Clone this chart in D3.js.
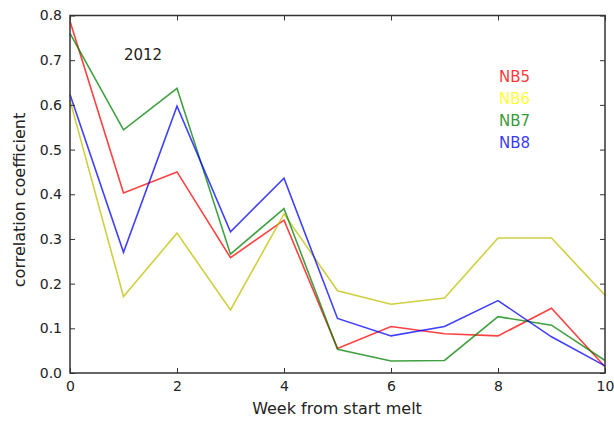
<!DOCTYPE html>
<html><head><meta charset="utf-8">
<script src="https://cdn.jsdelivr.net/npm/d3@7"></script>
<style>body{margin:0;background:#fff}svg{display:block}text{font-family:"DejaVu Sans",sans-serif}</style>
</head><body><svg id="c" width="614" height="423"></svg>
<script>
const weeks = [0,1,2,3,4,5,6,7,8,9,10];
const nb5 = [0.787,0.403,0.450,0.258,0.342,0.055,0.104,0.088,0.083,0.145,0.014];
const nb6 = [0.610,0.171,0.313,0.141,0.356,0.184,0.154,0.168,0.302,0.302,0.174];
const nb7 = [0.760,0.544,0.637,0.266,0.368,0.053,0.027,0.028,0.126,0.107,0.028];
const nb8 = [0.623,0.270,0.597,0.316,0.436,0.122,0.083,0.104,0.162,0.081,0.016];
const seriesNames = ["NB5","NB6","NB7","NB8"];
const lineColors = ["#ff0000","#bfbf00","#008000","#0000ff"];
const textColors = ["#ff0000","#ffff00","#008000","#0000ff"];
const xTicks = [0,2,4,6,8,10];
const yTicks = [0,0.1,0.2,0.3,0.4,0.5,0.6,0.7,0.8];

const svg = d3.select("#c");
const L=70, R=605, T=15.5, B=373;
const x = d3.scaleLinear().domain([0,10]).range([L,R]);
const y = d3.scaleLinear().domain([0,0.8]).range([B,T]);

const series = [nb5,nb6,nb7,nb8];
const line = d3.line().x((d,i)=>x(weeks[i])).y(d=>y(d));
series.forEach((s,i)=>{
  svg.append("path").datum(s).attr("d",line).attr("fill","none")
    .attr("stroke",lineColors[i]).attr("stroke-opacity",0.75).attr("stroke-width",1.6);
});

const fmt = d3.format(".1f");
const axB = svg.append("g").attr("transform",`translate(0,${B})`)
  .call(d3.axisBottom(x).tickValues(xTicks).tickFormat(d3.format("d")).tickSizeInner(-5).tickSizeOuter(0).tickPadding(8));
const axT = svg.append("g").attr("transform",`translate(0,${T})`)
  .call(d3.axisTop(x).tickValues(xTicks).tickFormat("").tickSizeInner(-5).tickSizeOuter(0));
const axL = svg.append("g").attr("transform",`translate(${L},0)`)
  .call(d3.axisLeft(y).tickValues(yTicks).tickFormat(fmt).tickSizeInner(-5).tickSizeOuter(0).tickPadding(8));
const axR = svg.append("g").attr("transform",`translate(${R},0)`)
  .call(d3.axisRight(y).tickValues(yTicks).tickFormat("").tickSizeInner(-5).tickSizeOuter(0));
[axB,axT,axL,axR].forEach(a=>{
  a.select(".domain").remove();
  a.selectAll(".tick line").attr("stroke","#333").attr("stroke-width",1);
  a.selectAll("text").attr("font-size",14).attr("fill","#222").attr("font-family","DejaVu Sans");
});
svg.append("rect").attr("x",L).attr("y",T).attr("width",R-L).attr("height",B-T)
  .attr("fill","none").attr("stroke","#333").attr("stroke-width",1.5);

svg.append("text").attr("x",143).attr("y",60).attr("text-anchor","middle")
  .attr("font-size",15).attr("fill","#222").text("2012");
seriesNames.forEach((n,i)=>{
  svg.append("text").attr("x",499).attr("y",82+i*22).attr("font-size",15)
    .attr("fill",textColors[i]).attr("fill-opacity",0.8).text(n);
});
svg.append("text").attr("x",337).attr("y",414).attr("text-anchor","middle")
  .attr("font-size",16).attr("fill","#222").text("Week from start melt");
svg.append("text").attr("transform","translate(25,200) rotate(-90)").attr("text-anchor","middle")
  .attr("font-size",16).attr("fill","#222").text("correlation coefficient");
</script></body></html>
